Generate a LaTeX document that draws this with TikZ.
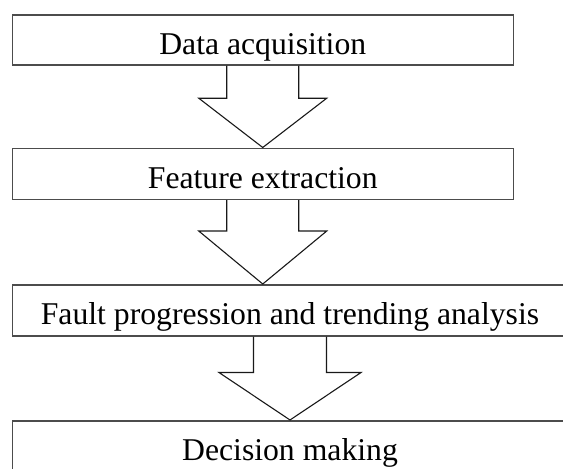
\documentclass[tikz,border=0pt]{standalone}
\usepackage{fontspec}
\setmainfont{Liberation Serif}
\usetikzlibrary{calc}
\begin{document}
\begin{tikzpicture}[x=1pt,y=-1pt,
  box/.style={draw=black!70, line width=1.5pt, inner sep=0pt, anchor=north west, rectangle},
  lbl/.style={font=\fontsize{31.7}{38}\selectfont, anchor=base, inner sep=0pt},
  blockarrow/.style={draw=black!90, line width=1.1pt, line join=miter}]
\useasboundingbox (0,0) rectangle (563,469);
\clip (0,0) rectangle (563,469);
\node[box, minimum width=501pt, minimum height=50pt] (b1) at (11.5,14) {};
\node[box, minimum width=501pt, minimum height=51pt] (b2) at (11.5,147.5) {};
\node[box, minimum width=555.5pt, minimum height=51pt] (b3) at (11.5,284) {};
\node[box, minimum width=555.5pt, minimum height=70pt] (b4) at (11.5,420) {};
\node[lbl] (t1) at ($(b1.south)+(0,-11)$) {Data acquisition};
\node[lbl] (t2) at ($(b2.south)+(0,-11.5)$) {Feature extraction};
\node[lbl] (t3) at ($(b3.south)+(0,-12)$) {Fault progression and trending analysis};
\node[lbl] (t4) at ($(b4.north)+(0,40)$) {Decision making};
\draw[blockarrow] ($(b1.south)+(-36,0)$) -- ++(0,32.7) -- ++(-28,0) -- (b1.south |- b2.north)
  -- ($(b1.south)+(64,32.7)$) -- ($(b1.south)+(36,32.7)$) -- ($(b1.south)+(36,0)$);
\draw[blockarrow] ($(b2.south)+(-36,0)$) -- ++(0,31) -- ++(-28,0) -- (b2.south |- b3.north)
  -- ($(b2.south)+(64,31)$) -- ($(b2.south)+(36,31)$) -- ($(b2.south)+(36,0)$);
\draw[blockarrow] ($(b3.south)+(-36.5,0)$) -- ++(0,36) -- ++(-34.5,0) -- (b3.south |- b4.north)
  -- ($(b3.south)+(71,36)$) -- ($(b3.south)+(36.5,36)$) -- ($(b3.south)+(36.5,0)$);
\end{tikzpicture}
\end{document}
